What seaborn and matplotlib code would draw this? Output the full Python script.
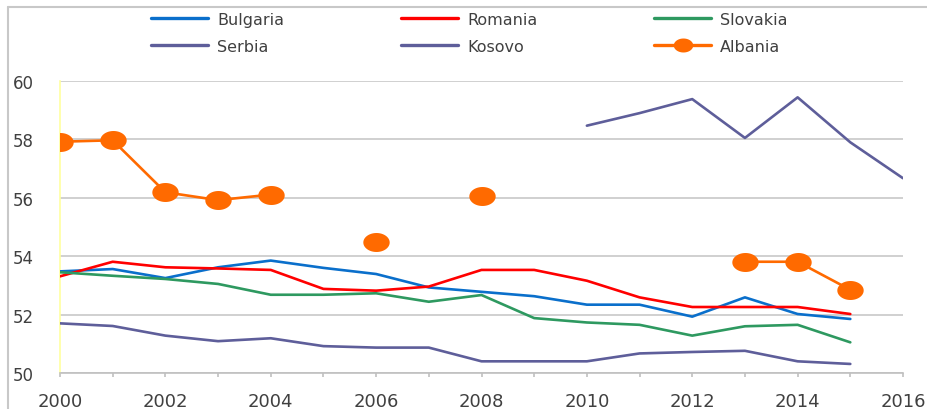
import numpy as np
import pandas as pd
import matplotlib
matplotlib.use("Agg")
import matplotlib.pyplot as plt
import seaborn as sns
from matplotlib.path import Path
from matplotlib.lines import Line2D

years = list(range(2000, 2017))
nan = np.nan
bulgaria = [53.48, 53.56, 53.25, 53.62, 53.85, 53.60, 53.39, 52.93, 52.78, 52.63, 52.34, 52.34, 51.93, 52.59, 52.02, 51.85, nan]
romania = [53.31, 53.81, 53.62, 53.58, 53.53, 52.88, 52.82, 52.96, 53.53, 53.53, 53.16, 52.59, 52.26, 52.26, 52.26, 52.02, nan]
slovakia = [53.45, 53.33, 53.22, 53.05, 52.68, 52.68, 52.73, 52.44, 52.67, 51.88, 51.73, 51.65, 51.28, 51.60, 51.65, 51.05, nan]
serbia = [51.70, 51.61, 51.28, 51.09, 51.19, 50.92, 50.87, 50.87, 50.40, 50.40, 50.40, 50.67, 50.72, 50.76, 50.40, 50.31, nan]
kosovo = [nan, nan, nan, nan, nan, nan, nan, nan, nan, nan, 58.47, 58.90, 59.38, 58.05, 59.44, 57.90, 56.67]
albania = [57.92, 57.97, 56.19, 55.92, 56.11, nan, 54.47, nan, 56.06, nan, nan, nan, nan, 53.81, 53.81, 52.85, nan]

series = ["Bulgaria", "Romania", "Slovakia", "Serbia", "Kosovo", "Albania"]
colors = {"Bulgaria": "#0A6FCB", "Romania": "#FF0000", "Slovakia": "#2E9960",
          "Serbia": "#5E5E9A", "Kosovo": "#5E5E9A", "Albania": "#FF6A00"}
data = {"Bulgaria": bulgaria, "Romania": romania, "Slovakia": slovakia,
        "Serbia": serbia, "Kosovo": kosovo, "Albania": albania}

sns.set_theme(style="white")
plt.rcParams['font.family'] = ['DejaVu Sans']

fig = plt.figure(figsize=(9.27, 4.10), dpi=100)
fig.patch.set_edgecolor("none")
fig.patch.set_linewidth(0)
ax = fig.add_axes([60/927, 36/410, (903-60)/927, (374-82)/410])

# ellipse marker
t = np.linspace(0, 2*np.pi, 60)
ell = Path(np.column_stack([np.cos(t), 0.72*np.sin(t)]), closed=True)


def segmented(values):
    vals = np.array(values, dtype=float)
    seg = np.cumsum(np.isnan(vals))
    df = pd.DataFrame({"year": years, "value": vals, "seg": seg})
    return df.dropna()


for name in series:
    df = segmented(data[name])
    kw = dict(data=df, x="year", y="value", units="seg", estimator=None, ax=ax,
              color=colors[name], lw=1.9, legend=False)
    if name == "Albania":
        sns.lineplot(**kw, marker=ell, markersize=19, markeredgewidth=0, zorder=5)
    else:
        sns.lineplot(**kw, zorder=4)

ax.set_xlim(2000, 2016)
ax.set_ylim(50, 60)
ax.set_yticks([50, 52, 54, 56, 58, 60])
ax.set_xticks(range(2000, 2017, 2))
ax.set_xticks(range(2000, 2017), minor=True)
ax.set_xlabel("")
ax.set_ylabel("")
ax.grid(axis="y", color="#C8C8C8", lw=1.2)
ax.set_axisbelow(True)
for s in ["top", "right"]:
    ax.spines[s].set_visible(False)
ax.spines["left"].set_color("#FFFFA0")
ax.spines["left"].set_linewidth(1.2)
ax.spines["bottom"].set_color("#C0C0C0")
ax.spines["bottom"].set_linewidth(1.2)
ax.tick_params(axis="y", length=0, labelsize=12, labelcolor="#404040", pad=34)
ax.tick_params(axis="x", which="both", length=3, color="#C0C0C0", width=1.2, direction="out",
               bottom=True, labelsize=13, labelcolor="#404040", pad=11)
for lab in ax.get_yticklabels():
    lab.set_horizontalalignment("left")

handles = {}
for name in series:
    if name == "Albania":
        handles[name] = Line2D([0], [0], color=colors[name], lw=2.4, marker=ell,
                               markersize=14, markeredgewidth=0)
    else:
        handles[name] = Line2D([0], [0], color=colors[name], lw=2.4)

# legend laid out in 3 columns (row-wise order as in the reference)
columns = [["Bulgaria", "Serbia"], ["Romania", "Kosovo"], ["Slovakia", "Albania"]]
col_x = [151, 401, 654]
fs = 11.5
fpx = fs * 100 / 72
for names, x0 in zip(columns, col_x):
    leg = fig.legend([handles[n] for n in names], names, loc="upper left",
                     bbox_to_anchor=(x0/927, 1-13/410), borderpad=0, borderaxespad=0,
                     frameon=False, handlelength=57/fpx, handletextpad=9/fpx,
                     labelspacing=0.72, fontsize=fs)
    for txt in leg.get_texts():
        txt.set_color("#404040")

# figure border (top and left)
fig.add_artist(Line2D([8/927, 8/927], [0, 1-8/410], transform=fig.transFigure, color="#C8C8C8", lw=1.5))
fig.add_artist(Line2D([8/927, 1], [1-8/410, 1-8/410], transform=fig.transFigure, color="#C8C8C8", lw=1.5))

fig.savefig("out.png", dpi=100)
